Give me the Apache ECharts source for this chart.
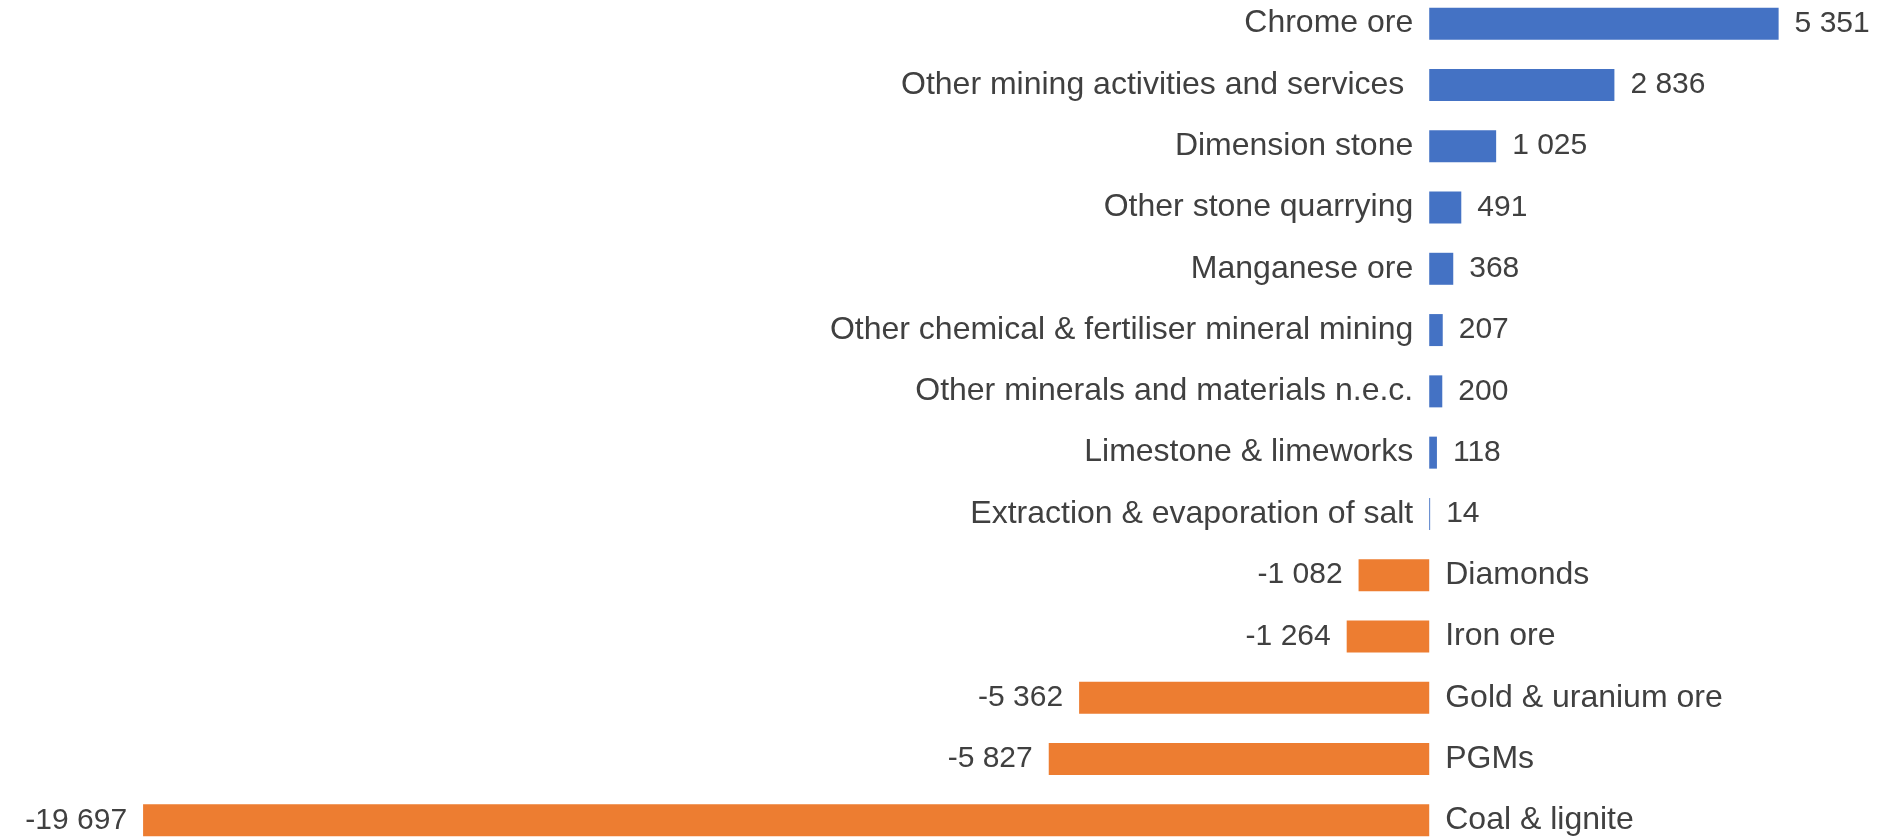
<!DOCTYPE html>
<html>
<head>
<meta charset="utf-8">
<script src="https://cdn.jsdelivr.net/npm/echarts@6/dist/echarts.min.js"></script>
<style>
  html, body { margin: 0; padding: 0; background: #fff; overflow: hidden; }
  /* the plot runs a little past the top and bottom edges of the window */
  #chart { position: absolute; left: 0; top: -7px; width: 1878px; height: 858px; }
</style>
</head>
<body>
<div id="chart"></div>
<script>
// categories, top to bottom
const categories = [
  'Chrome ore',
  'Other mining activities and services ',
  'Dimension stone',
  'Other stone quarrying',
  'Manganese ore',
  'Other chemical & fertiliser mineral mining',
  'Other minerals and materials n.e.c.',
  'Limestone & limeworks',
  'Extraction & evaporation of salt',
  'Diamonds',
  'Iron ore',
  'Gold & uranium ore',
  'PGMs',
  'Coal & lignite'
]
const values = [5351, 2836, 1025, 491, 368, 207, 200, 118, 14, -1082, -1264, -5362, -5827, -19697]

const blue = '#4472C4'
const orange = '#ED7D31'
const textColor = '#404040'
const fontFamily = 'Liberation Sans, Arial, sans-serif'

// 5351 -> "5 351", -19697 -> "-19 697"
const fmt = (v) => {
  const s = String(Math.abs(v)).replace(/\B(?=(\d{3})+(?!\d))/g, ' ')
  return (v < 0 ? '-' : '') + s
}

const chart = echarts.init(document.getElementById('chart'))

const option = {
  animation: false,
  grid: { left: 58, right: 57, top: 0, bottom: 0, containLabel: false },
  xAxis: {
    type: 'value',
    min: -21000,
    max: 6000,
    show: false
  },
  yAxis: {
    type: 'category',
    data: categories,
    inverse: true,
    show: false
  },
  series: [
    {
      type: 'bar',
      barWidth: 32,
      data: values.map(v => ({
        value: v,
        itemStyle: { color: v >= 0 ? blue : orange },
        label: { position: v >= 0 ? 'right' : 'left' }
      })),
      label: {
        show: true,
        distance: 16,
        color: textColor,
        fontSize: 30,
        fontFamily: fontFamily,
        formatter: p => fmt(p.value)
      }
    },
    {
      // zero-length bars that only carry the category names
      type: 'bar',
      barWidth: 32,
      barGap: '-100%',
      silent: true,
      itemStyle: { color: 'transparent' },
      data: values.map(v => ({
        value: 0,
        label: { position: v >= 0 ? 'left' : 'right' }
      })),
      label: {
        show: true,
        distance: 16,
        color: textColor,
        fontSize: 32,
        fontFamily: fontFamily,
        formatter: p => p.name
      }
    }
  ]
}

chart.setOption(option)
</script>
</body>
</html>
